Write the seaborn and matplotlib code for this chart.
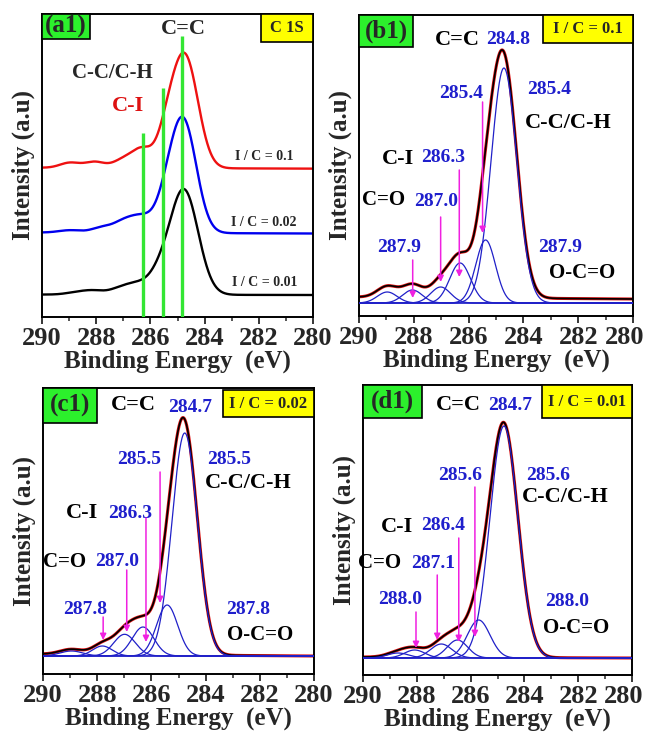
import numpy as np
import pandas as pd
import matplotlib
matplotlib.use('Agg')
import matplotlib.pyplot as plt
from matplotlib.patches import Rectangle
from matplotlib.ticker import MultipleLocator
import seaborn as sns

sns.set_theme(style='white')
plt.rcParams['font.family'] = ['Liberation Serif', 'DejaVu Serif']
plt.rcParams['font.weight'] = 'bold'
plt.rcParams['axes.labelweight'] = 'bold'

# ---------------- data ----------------
energy_ticks = [290, 288, 286, 284, 282, 280]

# fitted C 1s components, I/C = 0.1  (panel b1)
b_centers = [284.71, 285.38, 286.31, 287.02, 288.05, 288.97]
b_heights = [235, 63, 40, 16, 13, 11]
b_sigmas = [0.47, 0.36, 0.38, 0.36, 0.36, 0.36]
b_background = [6, 4]          # at 290 eV and 280 eV

# I/C = 0.02  (panel c1)
c_centers = [284.77, 285.42, 286.31, 286.99, 287.81, 288.95]
c_heights = [223, 51, 29, 21.7, 10, 5]
c_sigmas = [0.47, 0.39, 0.40, 0.40, 0.36, 0.42]
c_background = [2, 0]

# I/C = 0.01  (panel d1)
d_centers = [284.76, 285.70, 286.49, 287.09, 288.08, 288.70]
d_heights = [232, 38, 18, 14, 8, 5]
d_sigmas = [0.52, 0.42, 0.38, 0.40, 0.38, 0.40]
d_background = [1, 0]

# panel a1 : stacked survey of the three spectra
a_series = ['I / C = 0.01', 'I / C = 0.02', 'I / C = 0.1']
a_scales = [0.45, 0.49, 0.466]
a_offsets = [0, 61.5, 124.5]
a_marker_energies = [286.28, 285.55, 284.83]
a_marker_tops = [162, 207, 259]
a_marker_names = ['C-I', 'C-C/C-H', 'C=C']

energy = np.linspace(290, 280, 1001)


def components(centers, heights, sigmas):
    return [h * np.exp(-(energy - c) ** 2 / (2 * s ** 2))
            for c, h, s in zip(centers, heights, sigmas)]


def envelope(comps, bg):
    background = bg[0] + (bg[1] - bg[0]) * (290 - energy) / 10.0
    return np.sum(comps, axis=0) + background


spectra = {}
for key, (cen, hei, sig, bg) in {
        'b': (b_centers, b_heights, b_sigmas, b_background),
        'c': (c_centers, c_heights, c_sigmas, c_background),
        'd': (d_centers, d_heights, d_sigmas, d_background)}.items():
    comps = components(cen, hei, sig)
    spectra[key] = (comps, envelope(comps, bg))

# ---------------- figure ----------------
W, H = 648, 738
fig = plt.figure(figsize=(W / 100, H / 100), dpi=100)


def add_ax(l, r, t, b):
    return fig.add_axes([l / W, (H - b) / H, (r - l) / W, (b - t) / H])


ax_a = add_ax(42, 313, 14, 317)
ax_b = add_ax(359, 633, 15, 316)
ax_c = add_ax(43, 314, 388, 674)
ax_d = add_ax(363, 632, 385, 675)

GREEN = '#2cf02c'
YELLOW = '#ffff00'
BLUE_TXT = '#1f1fcc'
BLUE_LN = '#2020c8'
MAGENTA = '#f020e0'


def style_axes(ax, ylim, shift_last=False):
    ax.set_xlim(290, 280)
    ax.set_ylim(*ylim)
    ax.set_xticks(energy_ticks)
    ax.xaxis.set_minor_locator(MultipleLocator(1))
    texts = [str(t) for t in energy_ticks]
    if shift_last:
        texts[-1] = ''
        # last label nudged left so that it stays inside the figure
        ax.annotate(str(energy_ticks[-1]), xy=(energy_ticks[-1], 0),
                    xycoords=('data', 'axes fraction'), xytext=(-6, -7),
                    textcoords='offset points', ha='center', va='top',
                    fontsize=19, fontweight='bold', annotation_clip=False)
    ax.set_xticklabels(texts, fontsize=19, fontweight='bold')
    ax.tick_params(axis='x', which='major', direction='out', length=5, width=1.3,
                   bottom=True, pad=2)
    ax.tick_params(axis='x', which='minor', direction='out', length=3, width=1.1,
                   bottom=True)
    ax.set_yticks([])
    for sp in ax.spines.values():
        sp.set_linewidth(1.4)
        sp.set_color('black')
    ax.set_xlabel('Binding Energy  (eV)', fontsize=18, fontweight='bold', labelpad=0)
    ax.set_ylabel('Intensity (a.u)', fontsize=18, fontweight='bold', labelpad=5)


def box(ax, x0, y0, w, h, color, text, fs):
    ax.add_patch(Rectangle((x0, y0), w, h, transform=ax.transAxes, fc=color,
                           ec='black', lw=1.2, clip_on=False, zorder=6))
    ax.text(x0 + w / 2, y0 + h / 2, text, transform=ax.transAxes, ha='center',
            va='center', fontsize=fs, fontweight='bold', zorder=7)


def line(ax, y, color, lw, z=2):
    df = pd.DataFrame({'E': energy, 'I': y})
    sns.lineplot(data=df, x='E', y='I', ax=ax, color=color, lw=lw,
                 errorbar=None, sort=False, zorder=z)


# ---------- panel a1 ----------
src = [spectra['d'][1], spectra['c'][1], spectra['b'][1]]
cols = ['black', '#0000ee', '#ee1111']
for y, s, o, col in zip(src, a_scales, a_offsets, cols):
    line(ax_a, y * s + o, col, 1.7)
style_axes(ax_a, (-22, 281))
ax_a.vlines(a_marker_energies, -22, a_marker_tops, colors='#33e633', lw=2.4, zorder=4)
ax_a.text(284.8, 266, 'C=C', ha='center', va='center', fontsize=16, fontweight='bold')
ax_a.text(287.42, 222, 'C-C/C-H', ha='center', va='center', fontsize=15, fontweight='bold')
ax_a.text(286.83, 189, 'C-I', ha='center', va='center', fontsize=16, fontweight='bold',
          color='#dd1111')
for name, yy in zip(a_series, [12, 72, 139]):
    ax_a.text(281.8, yy, name, ha='center', va='center', fontsize=10, fontweight='bold')
box(ax_a, 0, 0.917, 0.177, 0.083, GREEN, '(a1)', 18)
box(ax_a, 0.808, 0.908, 0.192, 0.092, YELLOW, 'C 1S', 12)


# ---------- fitted panels ----------
def fitted(ax, key, ylim, labels, arrows, shift_last):
    comps, env = spectra[key]
    for cmp in comps:
        line(ax, cmp, BLUE_LN, 0.9, z=3)
    line(ax, env, '#dd1111', 2.2, z=2)
    line(ax, env, 'black', 1.2, z=2.5)
    style_axes(ax, ylim, shift_last)
    for x, y, t, col, fs in labels:
        ax.text(x, y, t, ha='center', va='center', fontsize=fs, fontweight='bold',
                color=col, zorder=8)
    for x, y0, y1 in arrows:
        ax.annotate('', xy=(x, y1), xytext=(x, y0),
                    arrowprops=dict(arrowstyle='-|>', color=MAGENTA, lw=1.1,
                                    mutation_scale=9, shrinkA=0, shrinkB=0), zorder=9)
    return ax


K, B = 'black', BLUE_TXT
fitted(ax_b, 'b', (-13, 288),
       [(286.42, 263, 'C=C', K, 16), (284.56, 263, '284.8', B, 14),
        (286.28, 209, '285.4', B, 14), (283.07, 213, '285.4', B, 14),
        (282.37, 180, 'C-C/C-H', K, 16),
        (288.58, 144, 'C-I', K, 16), (286.93, 146, '286.3', B, 14),
        (289.12, 103, 'C=O', K, 15), (287.19, 101, '287.0', B, 14),
        (288.54, 55, '287.9', B, 14), (282.66, 55, '287.9', B, 14),
        (281.86, 30, 'O-C=O', K, 15)],
       [(288.04, 43, 5), (287.02, 86, 21), (286.34, 133, 26), (285.49, 201, 70)],
       True)
box(ax_b, 0, 0.894, 0.197, 0.106, GREEN, '(b1)', 18)
box(ax_b, 0.672, 0.907, 0.328, 0.093, YELLOW, 'I / C = 0.1', 12)

fitted(ax_c, 'c', (-18, 268),
       [(286.68, 251, 'C=C', K, 16), (284.58, 249, '284.7', B, 14),
        (286.46, 197, '285.5', B, 14), (283.14, 197, '285.5', B, 14),
        (282.44, 173, 'C-C/C-H', K, 16),
        (288.56, 143, 'C-I', K, 16), (286.79, 143, '286.3', B, 14),
        (289.19, 94, 'C=O', K, 15), (287.27, 94, '287.0', B, 14),
        (288.45, 47, '287.8', B, 14), (282.44, 47, '287.8', B, 14),
        (281.99, 21, 'O-C=O', K, 15)],
       [(287.78, 39, 16), (286.91, 86, 24), (286.20, 138, 14), (285.68, 184, 53)],
       False)
box(ax_c, 0, 0.878, 0.199, 0.122, GREEN, '(c1)', 18)
box(ax_c, 0.664, 0.899, 0.336, 0.093, YELLOW, 'I / C = 0.02', 12)

fitted(ax_d, 'd', (-17, 273),
       [(286.47, 253, 'C=C', K, 16), (284.54, 253, '284.7', B, 14),
        (286.39, 183, '285.6', B, 14), (283.12, 183, '285.6', B, 14),
        (282.49, 161, 'C-C/C-H', K, 16),
        (288.74, 131, 'C-I', K, 16), (287.03, 133, '286.4', B, 14),
        (289.37, 95, 'C=O', K, 15), (287.40, 95, '287.1', B, 14),
        (288.62, 58, '288.0', B, 14), (282.42, 56, '288.0', B, 14),
        (282.08, 30, 'O-C=O', K, 15)],
       [(288.03, 46, 10), (287.24, 83, 18), (286.44, 120, 16), (285.84, 171, 21)],
       True)
box(ax_d, 0, 0.886, 0.219, 0.114, GREEN, '(d1)', 18)
box(ax_d, 0.665, 0.886, 0.335, 0.114, YELLOW, 'I / C = 0.01', 12)

fig.savefig('out.png', dpi=100)
